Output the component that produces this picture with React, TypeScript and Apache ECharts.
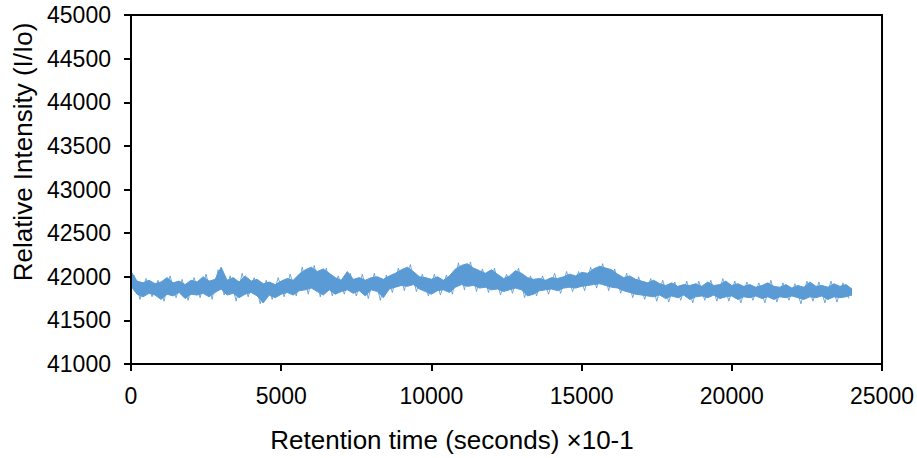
import React, { useEffect, useRef } from "react";
import * as echarts from "echarts";

// Sampling step of the retention-time grid (seconds ×10-1)
const timeStep = 200;

// Upper envelope of the noisy trace (Relative Intensity), one value per timeStep from 0
const upper = [
  42060, 41950, 41930, 41960, 41920, 41940, 41990, 41930, 41950, 41910,
  41960, 41940, 42000, 41950, 41970, 42110, 41960, 41990, 41940, 42010,
  41950, 41970, 41920, 41940, 41910, 41950, 41980, 41960, 42030, 42080,
  42110, 42060, 42090, 42040, 41990, 41960, 42060, 41970, 41990, 41960,
  41990, 42000, 41970, 42010, 42040, 42080, 42110, 42060, 42000, 41990,
  41970, 42000, 41960, 42010, 42090, 42130, 42150, 42100, 42070, 42040,
  42080, 42030, 41980, 42010, 42070, 42040, 41990, 41970, 41980, 41960,
  41990, 41980, 42000, 42030, 42010, 42050, 42040, 42090, 42120, 42100,
  42080, 42030, 41990, 42010, 41970, 41950, 41930, 41960, 41920, 41900,
  41930, 41890, 41910, 41900, 41920, 41890, 41940, 41900, 41910, 41950,
  41900, 41920, 41890, 41910, 41880, 41900, 41930, 41890, 41880, 41910,
  41870, 41900, 41880, 41940, 41890, 41900, 41880, 41920, 41890, 41910,
  41860,
];

// Lower envelope of the noisy trace
const lower = [
  41890, 41800, 41770, 41810, 41790, 41740, 41800, 41780, 41820, 41750,
  41800, 41790, 41810, 41770, 41820, 41860, 41790, 41810, 41760, 41800,
  41820, 41780, 41700, 41790, 41760, 41800, 41820, 41790, 41840, 41850,
  41870, 41830, 41790, 41850, 41800, 41830, 41850, 41810, 41840, 41780,
  41850, 41830, 41760, 41860, 41880, 41900, 41890, 41910, 41860, 41830,
  41800, 41840, 41850, 41820, 41880, 41910, 41890, 41900, 41870, 41880,
  41850, 41860, 41830, 41850, 41870, 41850, 41780, 41800, 41840, 41850,
  41860, 41840, 41870, 41880, 41870, 41890, 41900, 41910, 41920, 41900,
  41880, 41870, 41840, 41820, 41800, 41790, 41780, 41770, 41790, 41750,
  41780, 41760, 41790, 41740, 41770, 41780, 41760, 41790, 41750, 41770,
  41780, 41740, 41770, 41760, 41780, 41750, 41770, 41740, 41770, 41760,
  41780, 41760, 41740, 41770, 41760, 41780, 41740, 41770, 41760, 41770,
  41790,
];

// Short noise spikes, sampled halfway between envelope samples (from timeStep / 2)
const spikes = [
  42020, 41740, 41980, 41770, 41960, 41720, 42010, 41760, 41970, 41730,
  41990, 41760, 42030, 41740, 42080, 41790, 42010, 41720, 42040, 41770,
  41990, 41690, 41960, 41740, 41990, 41770, 42030, 41780, 42110, 41800,
  42130, 41770, 42100, 41780, 42010, 41800, 42040, 41780, 42030, 41750,
  42040, 41730, 42020, 41820, 42100, 41840, 42140, 41830, 42030, 41780,
  42030, 41790, 42020, 41800, 42160, 41850, 42170, 41830, 42090, 41820,
  42100, 41790, 42030, 41810, 42100, 41760, 42010, 41780, 42010, 41800,
  42040, 41810, 42060, 41830, 42060, 41840, 42110, 41870, 42150, 41840,
  42090, 41810, 42040, 41760, 42000, 41740, 41980, 41720, 41960, 41710,
  41940, 41730, 41950, 41700, 41950, 41730, 41960, 41720, 41980, 41720,
  41950, 41700, 41940, 41730, 41930, 41700, 41960, 41710, 41930, 41730,
  41920, 41690, 41950, 41720, 41940, 41700, 41950, 41710, 41930, 41750,
];

const xMin = 0;
const xMax = 25000;
const xInterval = 5000;
const yMin = 41000;
const yMax = 45000;
const yInterval = 500;

const xTitle = "Retention time (seconds) ×10-1";
const yTitle = "Relative Intensity (I/Io)";

const FONT = "'Liberation Sans', Arial, sans-serif";
const BLUE = "#5b9bd5";

export default function App() {
  const ref = useRef<HTMLDivElement>(null);

  useEffect(() => {
    if (!ref.current) return;
    const chart = echarts.init(ref.current, null, { renderer: "svg" });

    const upperData = upper.map((v, i) => [i * timeStep, v]);
    const lowerData = lower.map((v, i) => [i * timeStep, v]);
    const spikeData = spikes.map((v, i) => [i * timeStep + timeStep / 2, v]);

    const axisCommon = {
      type: "value",
      z: 10,
      axisLine: { show: true, lineStyle: { color: "#000", width: 2 } },
      axisTick: { show: true, inside: false, length: 7, lineStyle: { color: "#000", width: 2 } },
      splitLine: { show: false },
      axisLabel: {
        color: "#000",
        fontFamily: FONT,
        fontSize: 23,
        margin: 20,
        formatter: (v: number) => String(v),
      },
    };

    chart.setOption({
      animation: false,
      backgroundColor: "#ffffff",
      grid: {
        left: 131,
        right: 31,
        top: 15,
        bottom: 94,
        show: true,
        borderColor: "#000",
        borderWidth: 2,
        backgroundColor: "transparent",
      },
      xAxis: { ...axisCommon, min: xMin, max: xMax, interval: xInterval },
      yAxis: { ...axisCommon, min: yMin, max: yMax, interval: yInterval },
      series: [
        {
          type: "line",
          name: "upper",
          data: upperData,
          symbol: "none",
          silent: true,
          lineStyle: { color: BLUE, width: 1 },
          areaStyle: { color: BLUE, opacity: 1, origin: "start" },
          z: 2,
        },
        {
          type: "line",
          name: "lower",
          data: lowerData,
          symbol: "none",
          silent: true,
          lineStyle: { color: BLUE, width: 1 },
          areaStyle: { color: "#ffffff", opacity: 1, origin: "start" },
          z: 3,
        },
        {
          type: "line",
          name: "noise",
          data: spikeData,
          symbol: "none",
          silent: true,
          lineStyle: { color: BLUE, width: 1, opacity: 0.85 },
          z: 4,
        },
      ],
      graphic: [
        {
          type: "text",
          x: 452,
          y: 440,
          style: {
            text: xTitle,
            fontFamily: FONT,
            fontSize: 26,
            fill: "#000",
            align: "center",
            verticalAlign: "middle",
          },
        },
        {
          type: "text",
          x: 23,
          y: 152,
          rotation: Math.PI / 2,
          style: {
            text: yTitle,
            fontFamily: FONT,
            fontSize: 26,
            fill: "#000",
            align: "center",
            verticalAlign: "middle",
          },
        },
      ],
    });

    return () => chart.dispose();
  }, []);

  return (
    <div
      ref={ref}
      style={{ position: "absolute", left: 0, top: 0, width: 917, height: 458 }}
    />
  );
}
